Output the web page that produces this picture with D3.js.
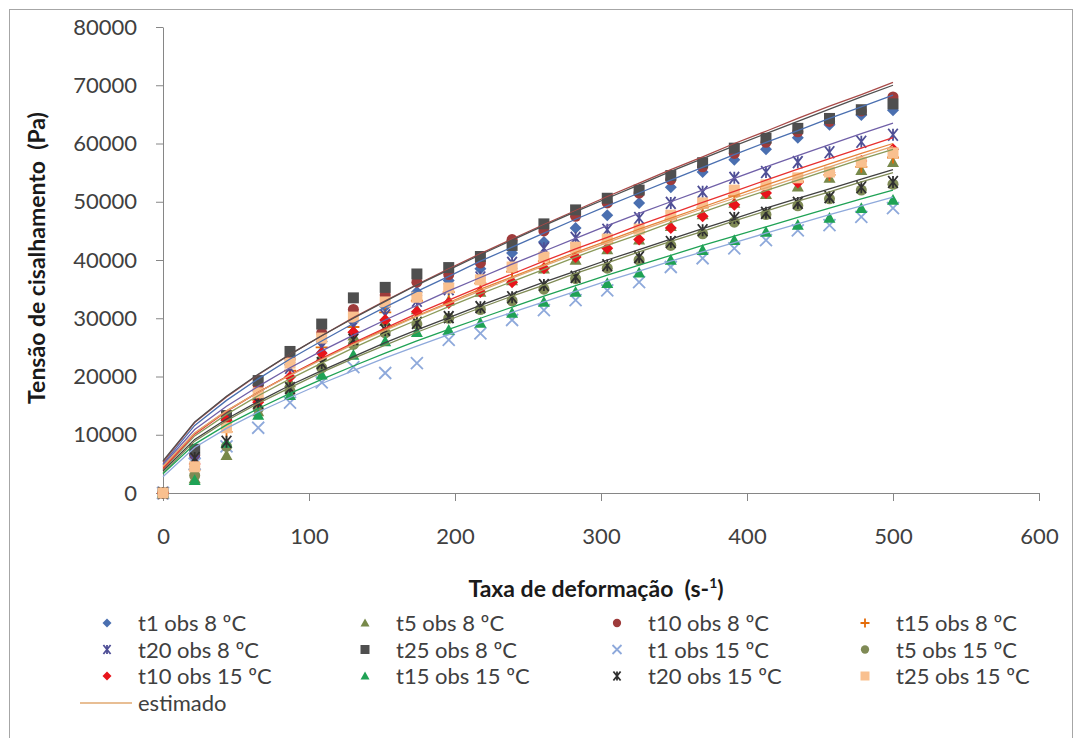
<!DOCTYPE html>
<html><head><meta charset="utf-8">
<script src="https://cdn.jsdelivr.net/npm/d3@7"></script>
<style>body{margin:0;background:#fff} text{font-family:Lato,"Open Sans",sans-serif}</style>
</head><body><svg id="c" width="1077" height="738"></svg>
<script>
// shear rate (s^-1)
const xVals = [0,21.7,43.5,65.2,87.0,108.7,130.4,152.2,173.9,195.7,217.4,239.1,260.9,282.6,304.3,326.1,347.8,369.6,391.3,413.0,434.8,456.5,478.3,500];
const xTicks = [0,100,200,300,400,500,600];
const yTicks = [0,10000,20000,30000,40000,50000,60000,70000,80000];
const seriesNames = ["t1 obs 8 ºC","t5 obs 8 ºC","t10 obs 8 ºC","t15 obs 8 ºC","t20 obs 8 ºC","t25 obs 8 ºC",
  "t1 obs 15 ºC","t5 obs 15 ºC","t10 obs 15 ºC","t15 obs 15 ºC","t20 obs 15 ºC","t25 obs 15 ºC"];
// observed shear stress (Pa)
const obs_t1_8  = [0,6000,12500,17500,22000,26000,29500,32000,34500,36500,38500,41200,43100,45500,47700,49800,52500,55100,57200,59000,61000,63200,64900,65700];
const obs_t5_8  = [0,2500,6500,14000,19000,23500,27000,29500,31500,33000,34500,36500,38500,40000,41800,43500,45800,47800,49800,51300,52600,54100,55400,56800];
const obs_t10_8 = [0,6500,13000,18500,23000,27500,31500,34000,36200,37500,39500,43500,45000,47500,49800,51500,53800,56000,58300,60200,62000,63800,65600,68000];
const obs_t15_8 = [0,4000,10500,16000,21000,25000,28500,31000,33000,34500,36000,38000,39800,41500,43000,44800,47000,49000,51000,52300,53500,54600,56000,57600];
const obs_t20_8 = [0,5500,12000,17000,21500,25000,28500,30500,33000,35000,37000,39500,42000,43800,45200,47200,49800,51700,54100,55100,56800,58500,60300,61500];
const obs_t25_8 = [0,7500,13300,19300,24300,29000,33500,35300,37600,38700,40600,42500,46200,48600,50600,52000,54500,56700,59200,60900,62600,64300,65800,66800];
const obs_t1_15 = [0,5000,8000,11200,15500,19000,21600,20600,22300,26300,27400,29700,31400,33100,34800,36200,38800,40300,42000,43400,45100,46000,47400,48900];
const obs_t5_15 = [0,3000,8000,14500,17500,21500,25500,27500,29000,30000,31500,33000,35000,36800,38600,40000,42500,44500,46500,47800,49300,50500,52000,53000];
const obs_t10_15= [0,5000,12500,15600,19900,24000,27600,29700,31100,32600,34500,36200,38600,40500,42000,43500,45500,47500,49500,51500,53300,55000,57000,59000];
const obs_t15_15= [0,2200,8600,13400,16800,20300,23700,26000,27600,28000,29200,30900,32800,34500,36000,37800,40000,41700,43400,44800,46000,47200,48900,50300];
const obs_t20_15= [0,6000,8800,15500,18000,22300,26300,28000,29200,30200,31900,33600,35700,37100,39100,40500,43100,45100,47200,48100,49800,50800,52500,53400];
const obs_t25_15= [0,4500,11200,17200,22300,26600,30200,32800,33600,35200,36600,38800,40500,42200,43600,45300,47700,49800,52000,52900,54100,55100,56800,58400];
// estimated curves (Pa)
const est_t1_8  = [5000,11600,15900,19600,23000,26100,29100,31900,34600,37200,39800,42200,44600,47000,49300,51500,53700,55900,58100,60200,62200,64300,66300,68300];
const est_t5_8  = [4000,9800,13500,16700,19600,22300,24900,27400,29700,32000,34200,36300,38400,40500,42500,44400,46400,48200,50100,51900,53700,55500,57300,59000];
const est_t10_8 = [5300,12100,16500,20300,23800,27000,30100,33000,35800,38500,41100,43600,46100,48500,50900,53200,55500,57700,60000,62100,64300,66400,68400,70500];
const est_t15_8 = [4500,10300,14100,17300,20300,23000,25600,28100,30400,32700,35000,37100,39200,41300,43300,45300,47200,49100,51000,52900,54700,56500,58300,60000];
const est_t20_8 = [4800,10900,14900,18300,21500,24400,27100,29700,32200,34700,37000,39300,41500,43700,45900,48000,50000,52000,54000,56000,57900,59800,61700,63500];
const est_t25_8 = [5500,12200,16600,20400,23800,27000,30000,32900,35700,38300,40900,43400,45900,48300,50600,52900,55200,57400,59600,61700,63800,65900,68000,70000];
const est_t1_15 = [2800,7800,11100,13900,16400,18800,21000,23200,25200,27200,29200,31000,32800,34600,36400,38100,39800,41400,43000,44600,46200,47800,49300,50800];
const est_t5_15 = [3500,8900,12400,15400,18100,20700,23100,25400,27600,29700,31800,33800,35700,37700,39500,41400,43200,44900,46700,48400,50100,51700,53400,55000];
const est_t10_15= [4200,10100,14000,17300,20300,23100,25800,28300,30800,33100,35400,37600,39800,41900,43900,46000,47900,49900,51800,53700,55600,57400,59200,61000];
const est_t15_15= [3300,8400,11700,14500,17100,19500,21800,24000,26100,28100,30000,31900,33800,35600,37400,39100,40800,42500,44100,45700,47300,48900,50500,52000];
const est_t20_15= [3800,9200,12700,15700,18500,21000,23400,25800,28000,30100,32200,34200,36200,38100,40000,41800,43600,45400,47100,48900,50600,52200,53900,55500];
const est_t25_15= [4600,10300,14100,17300,20200,22900,25500,27900,30300,32500,34700,36900,39000,41000,43000,45000,46900,48800,50600,52400,54200,56000,57800,59500];

const obsAll = [obs_t1_8,obs_t5_8,obs_t10_8,obs_t15_8,obs_t20_8,obs_t25_8,obs_t1_15,obs_t5_15,obs_t10_15,obs_t15_15,obs_t20_15,obs_t25_15];
const estAll = [est_t1_8,est_t5_8,est_t10_8,est_t15_8,est_t20_8,est_t25_8,est_t1_15,est_t5_15,est_t10_15,est_t15_15,est_t20_15,est_t25_15];
const colors = ["#4a6fb0","#77894a","#9e3b3b","#e46c0a","#4f4f96","#4f4f4f","#8ea9db","#7f8a55","#e8141b","#1fa255","#303030","#f9c08f"];
const lineColors = ["#4a6fb0","#8a9a5a","#a84a48","#e8823a","#7060a8","#505050","#8ea9db","#7f8a55","#e83030","#1fa255","#404040","#e0a870"];
const shapes = ["diamond","triangle","circle","plus","star","square","x","circle","diamond","triangle","star","square"];

const FONT = "Lato,'Open Sans',sans-serif";
const svg = d3.select("#c");
svg.append("rect").attr("x",9.5).attr("y",9.5).attr("width",1063).attr("height",740)
  .attr("fill","#fff").attr("stroke","#a6a6a6");

const x = d3.scaleLinear().domain([0,600]).range([163,1039]);
const y = d3.scaleLinear().domain([0,80000]).range([493,27]);

const axisColor = "#868686";
const gy = svg.append("g").attr("transform","translate(163,0)")
  .call(d3.axisLeft(y).tickValues(yTicks).tickSize(7).tickSizeOuter(0).tickPadding(19).tickFormat(d3.format("d")));
const gx = svg.append("g").attr("transform","translate(0,493)")
  .call(d3.axisBottom(x).tickValues(xTicks).tickSize(8).tickSizeOuter(0).tickPadding(27).tickFormat(d3.format("d")));
[gx,gy].forEach(g=>{
  g.select(".domain").attr("stroke",axisColor);
  g.selectAll(".tick line").attr("stroke",axisColor);
  g.selectAll(".tick text").attr("fill","#404040").style("font-size","22px").style("font-family",FONT);
});

function markerPath(shape, r){
  const p = d3.path();
  if(shape==="diamond"){p.moveTo(0,-r);p.lineTo(r,0);p.lineTo(0,r);p.lineTo(-r,0);p.closePath();}
  else if(shape==="triangle"){p.moveTo(0,-r);p.lineTo(r,r*0.8);p.lineTo(-r,r*0.8);p.closePath();}
  else if(shape==="square"){p.rect(-r,-r,2*r,2*r);}
  else if(shape==="circle"){p.arc(0,0,r*0.92,0,2*Math.PI);}
  else if(shape==="plus"){p.moveTo(-r,0);p.lineTo(r,0);p.moveTo(0,-r);p.lineTo(0,r);}
  else if(shape==="x"){p.moveTo(-r,-r);p.lineTo(r,r);p.moveTo(-r,r);p.lineTo(r,-r);}
  else if(shape==="star"){p.moveTo(-r*0.8,-r);p.lineTo(r*0.8,r);p.moveTo(-r*0.8,r);p.lineTo(r*0.8,-r);p.moveTo(0,-r);p.lineTo(0,r);}
  return p.toString();
}
function drawMarker(g, shape, color, r){
  const open = (shape==="plus"||shape==="x"||shape==="star");
  g.append("path").attr("d",markerPath(shape,r))
    .attr("fill",open?"none":color).attr("stroke",open?color:"none").attr("stroke-width",open?1.8:0);
}

// observations
obsAll.forEach((vals,si)=>{
  const g = svg.append("g");
  vals.forEach((v,i)=>{
    const m = g.append("g").attr("transform",`translate(${x(xVals[i])},${y(v)})`);
    drawMarker(m, shapes[si], colors[si], shapes[si]==="square"?5.5:6);
  });
});
// estimated lines
const line = d3.line().x((d,i)=>x(xVals[i])).y(d=>y(d));
estAll.forEach((vals,si)=>{
  svg.append("path").datum(vals).attr("d",line).attr("fill","none")
    .attr("stroke",lineColors[si]).attr("stroke-width",1.3);
});

// axis titles
svg.append("text").attr("x",596).attr("y",597).attr("text-anchor","middle")
  .style("font-size","23px").style("font-weight","bold").style("font-family",FONT).attr("fill","#1a1a1a")
  .html('Taxa de deformação\u00a0 (s-<tspan dy="-9" font-size="14">1</tspan><tspan dy="9">)</tspan>');
svg.append("text").attr("transform","translate(45,258) rotate(-90)").attr("text-anchor","middle")
  .style("font-size","23px").style("font-weight","bold").style("font-family",FONT).attr("fill","#1a1a1a")
  .text("Tensão de cisalhamento\u00a0 (Pa)");

// legend
const colX = [107,365,617,865];
const rowY = [631,657.5,684];
seriesNames.forEach((name,si)=>{
  const c = si%4, r = Math.floor(si/4);
  const m = svg.append("g").attr("transform",`translate(${colX[c]},${rowY[r]-8})`);
  drawMarker(m, shapes[si], colors[si], 4.5);
  svg.append("text").attr("x",colX[c]+31).attr("y",rowY[r]).style("font-size","22px").style("font-family",FONT)
    .attr("fill","#404040").text(name);
});
svg.append("line").attr("x1",80).attr("x2",132).attr("y1",703).attr("y2",703).attr("stroke","#e0a870").attr("stroke-width",1.5);
svg.append("text").attr("x",138).attr("y",711).style("font-size","22px").style("font-family",FONT)
  .attr("fill","#404040").text("estimado");
</script></body></html>
